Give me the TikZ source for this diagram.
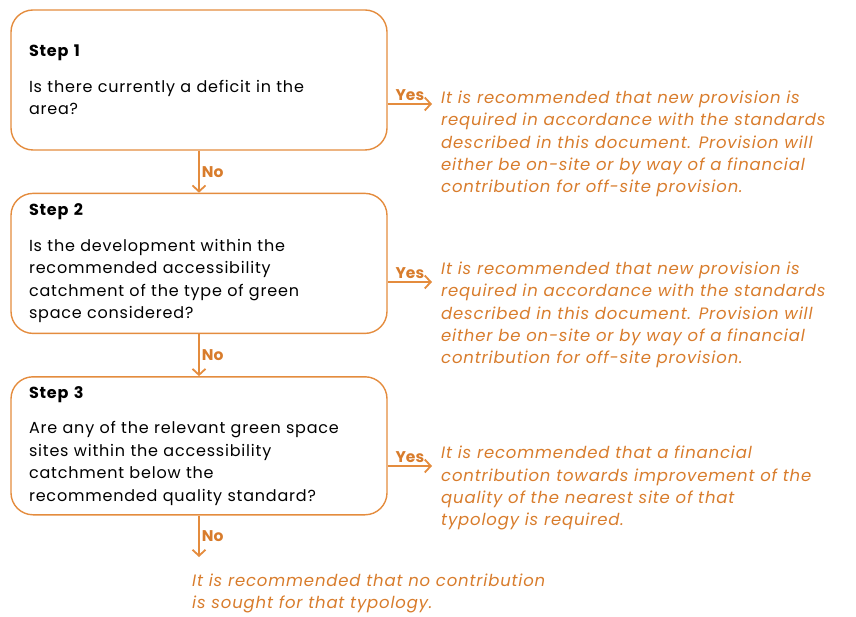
\documentclass[tikz,border=0pt]{standalone}
\usepackage{fontspec}
\setmainfont{Poppins}
\usetikzlibrary{arrows.meta,calc,positioning}
\definecolor{stepline}{RGB}{228,140,62}
\definecolor{answertext}{RGB}{216,124,44}
\tikzset{%
	stepbox/.style  = {draw=stepline, line width=1.4pt, rounded corners=22pt, minimum width=376pt, minimum height=140pt, text width=340pt, align=left, inner sep=0pt, font=\addfontfeatures{LetterSpace=5}\fontsize{16}{22.5}\selectfont}, % question box
	answer/.style   = {anchor=north west, align=left, text=answertext, inner sep=0pt, font=\itshape\addfontfeatures{LetterSpace=5}\fontsize{16.5}{22.2}\selectfont}, % outcome text
	flow/.style     = {draw=stepline, line width=1.8pt, -{Straight Barb[length=6pt,width=13pt]}}, % connector
	yesno/.style    = {text=answertext, inner sep=2pt, font=\bfseries\fontsize{15.5}{16}\selectfont}, % Yes / No
	waypoint/.style = {coordinate},
}

\begin{document}
\begin{tikzpicture}[x=1pt, y=1pt]
	\useasboundingbox (0,0) rectangle (856,-617);
	\node[stepbox] (s1) at (199,-80) {\textbf{Step 1}\\[13pt] Is there currently a deficit in the\\ area?};
	\node[stepbox, below=42pt of s1] (s2) {\textbf{Step 2}\\[13pt] Is the development within the\\ recommended accessibility\\ catchment of the type of green\\ space considered?};
	\node[stepbox, below=42pt of s2, minimum height=138pt] (s3) {\textbf{Step 3}\\[13pt] Are any of the relevant green space\\ sites within the accessibility\\ catchment below the\\ recommended quality standard?};
	% outcomes
	\node[answer] (a1) at (441,-91) {It is recommended that new provision is\\ required in accordance with the standards\\ described in this document. Provision will\\ either be on-site or by way of a financial\\ contribution for off-site provision.};
	\node[answer] (a2) at (441,-262) {It is recommended that new provision is\\ required in accordance with the standards\\ described in this document. Provision will\\ either be on-site or by way of a financial\\ contribution for off-site provision.};
	\node[answer] (a3) at (441,-446) {It is recommended that a financial\\ contribution towards improvement of the\\ quality of the nearest site of that\\ typology is required.};
	\node[answer] (a4) at (192,-574) {It is recommended that no contribution\\ is sought for that typology.};
	\node[waypoint] (y1) at (432,-104) {};
	\node[waypoint] (y2) at (432,-282) {};
	\node[waypoint] (y3) at (432,-466) {};
	\node[waypoint] (n3) at (199,-557) {};
	% connectors
	\draw[flow] (s1.east |- y1) -- node[yesno, above] {Yes} (y1);
	\draw[flow] (s2.east |- y2) -- node[yesno, above] {Yes} (y2);
	\draw[flow] (s3.east |- y3) -- node[yesno, above] {Yes} (y3);
	\draw[flow] (s1) -- node[yesno, right] {No} (s2);
	\draw[flow] (s2) -- node[yesno, right] {No} (s3);
	\draw[flow] (s3) -- node[yesno, right] {No} (n3);
\end{tikzpicture}
\end{document}
